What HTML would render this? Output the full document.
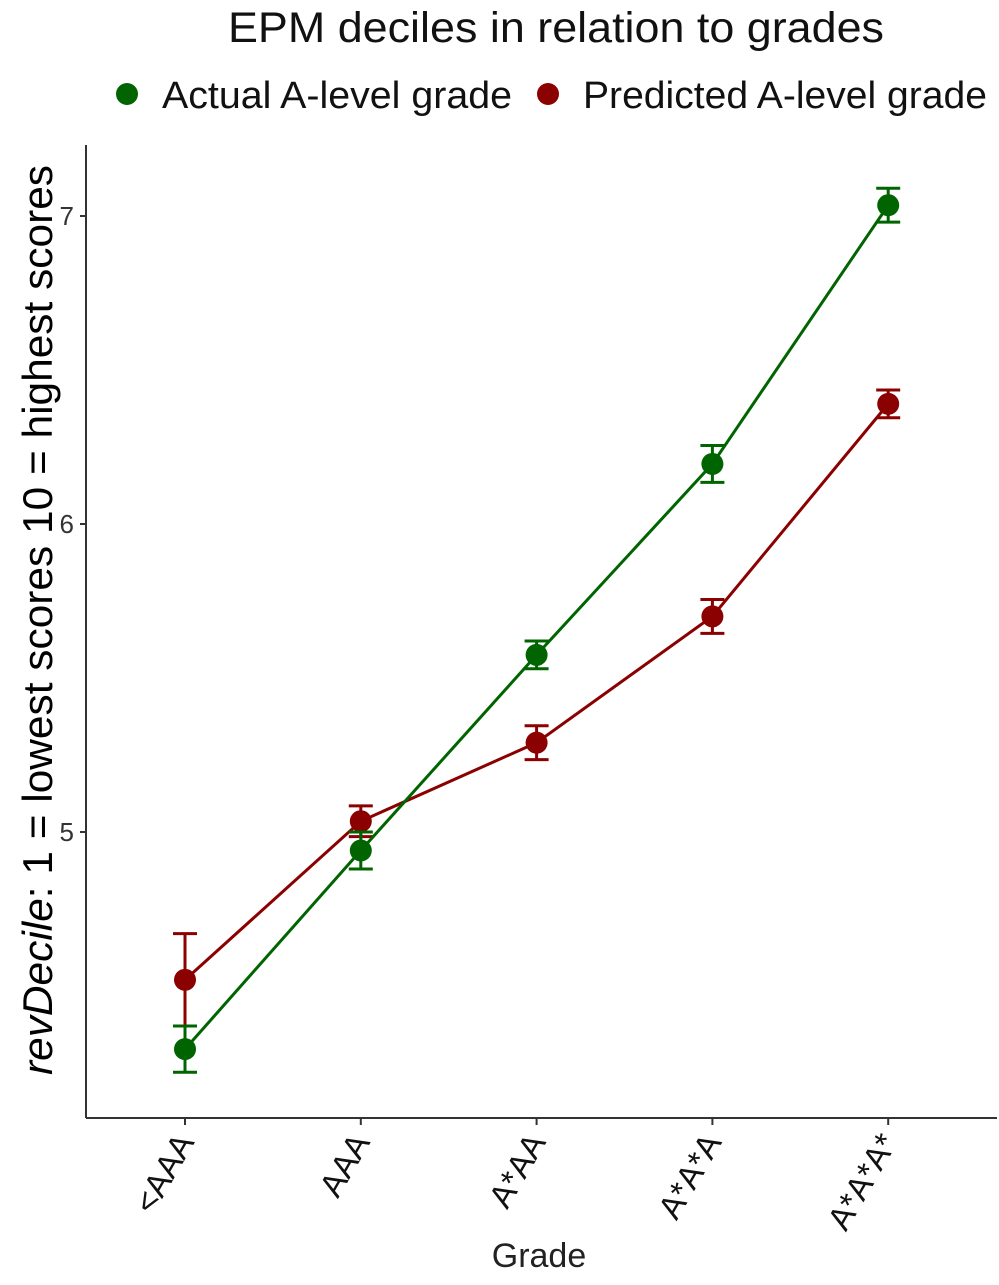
<!DOCTYPE html>
<html><head><meta charset="utf-8"><style>
body{margin:0;background:#fff;}
svg text{font-family:"Liberation Sans",sans-serif;}
</style></head><body>
<svg id="chart" width="999" height="1280" xmlns="http://www.w3.org/2000/svg">
<text x="556" y="42" font-size="43" text-anchor="middle" fill="#111" textLength="656" lengthAdjust="spacingAndGlyphs">EPM deciles in relation to grades</text>
<g>
<g><circle cx="127" cy="94" r="11" fill="#006400"/><text x="162" y="108" font-size="38" fill="#111" textLength="350" lengthAdjust="spacingAndGlyphs">Actual A-level grade</text></g>
<g><circle cx="548" cy="94" r="11" fill="#8b0000"/><text x="583" y="108" font-size="38" fill="#111" textLength="404" lengthAdjust="spacingAndGlyphs">Predicted A-level grade</text></g>
</g>
<text transform="translate(52,620) rotate(-90)" font-size="42" text-anchor="middle" fill="#000" textLength="910" lengthAdjust="spacingAndGlyphs"><tspan font-style="italic">revDecile</tspan>:  1 = lowest scores 10 = highest scores</text>
<text x="539" y="1267" font-size="34" text-anchor="middle" fill="#222">Grade</text>
<g id="axes"></g>
<g id="marks"></g>
</svg>
<script>
const categories = ["<AAA","AAA","A*AA","A*A*A","A*A*A*"];
const actualMeans = [4.295,4.94,5.575,6.195,7.035];
const actualErr = [0.075,0.06,0.045,0.06,0.055];
const predictedMeans = [4.52,5.035,5.29,5.70,6.39];
const predictedErr = [0.15,0.05,0.055,0.055,0.045];
const yTicks = [5,6,7];

const NS="http://www.w3.org/2000/svg";
const x0=86, x1=997, yTop=145, yBot=1118;
function xScale(i){return 185 + i*175.8;}
function yScale(v){return 832 - (v-5)*308;}
function mk(tag,attrs,parent){const e=document.createElementNS(NS,tag);for(const k in attrs)e.setAttribute(k,attrs[k]);parent.appendChild(e);return e;}
const axes=document.getElementById('axes'), marks=document.getElementById('marks');
const ya=mk('line',{x1:x0,y1:yTop,x2:x0,y2:yBot,stroke:'#333','stroke-width':2},axes);


const xa=mk('line',{x1:x0,y1:yBot,x2:x1,y2:yBot,stroke:'#333','stroke-width':2},axes);


yTicks.forEach(t=>{const y=yScale(t);
 mk('line',{x1:x0-6,y1:y,x2:x0,y2:y,stroke:'#333','stroke-width':2},axes);
 const tx=mk('text',{x:x0-12,y:y+9,'font-size':26,'text-anchor':'end',fill:'#333'},axes);tx.textContent=t;
 
 
});
categories.forEach((c,i)=>{const x=xScale(i);
 mk('line',{x1:x,y1:yBot,x2:x,y2:yBot+7,stroke:'#333','stroke-width':2},axes);
 const tx=mk('text',{transform:`translate(${x+10},${yBot+24}) rotate(-60)`,'font-size':33,'text-anchor':'end',fill:'#111'},axes);tx.textContent=c;
 
 
});
function series(means,errs,color,name){
 const g=mk('g',{},marks);
 
 
 const pl=mk('polyline',{points:means.map((v,i)=>xScale(i)+','+yScale(v)).join(' '),fill:'none',stroke:color,'stroke-width':3},g);
 
 
 means.forEach((v,i)=>{const x=xScale(i),yh=yScale(v+errs[i]),yl=yScale(v-errs[i]);
  const eb=mk('path',{d:`M${x-12},${yh}H${x+12}M${x},${yh}V${yl}M${x-12},${yl}H${x+12}`,stroke:color,'stroke-width':3,fill:'none'},g);
  
  
  const p=mk('circle',{cx:x,cy:yScale(v),r:11,fill:color},g);
  
  
 });
}
series(predictedMeans,predictedErr,'#8b0000','predicted');
series(actualMeans,actualErr,'#006400','actual');
</script>
</body></html>
